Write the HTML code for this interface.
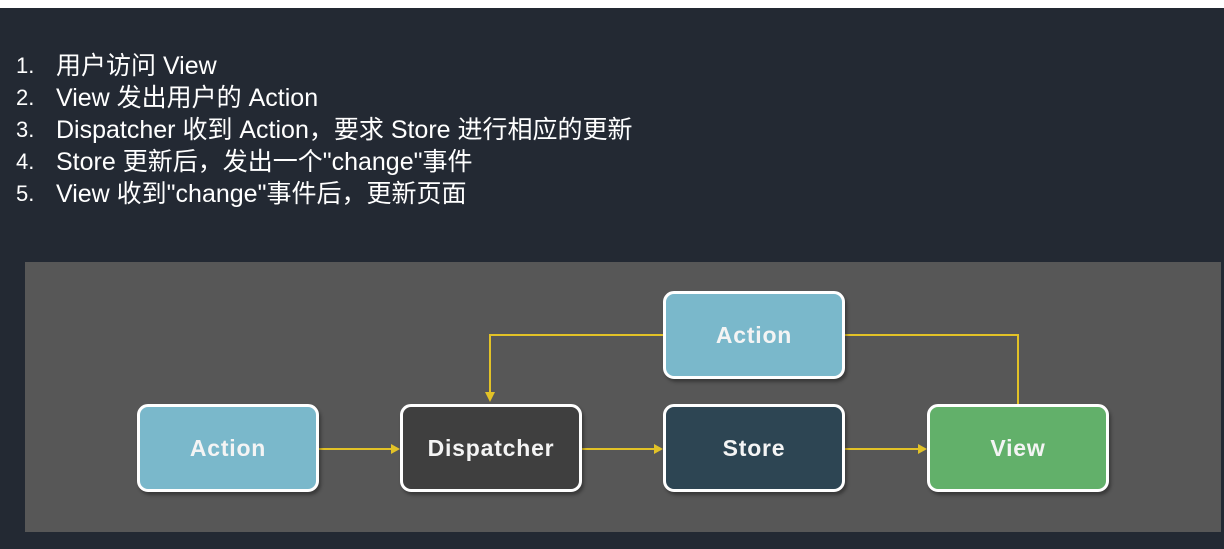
<!DOCTYPE html>
<html><head><meta charset="utf-8"><style>
html,body{margin:0;padding:0}
body{width:1224px;height:549px;background:#232933;position:relative;overflow:hidden;font-family:"Liberation Sans","Noto Sans CJK SC",sans-serif}
.top{position:absolute;left:0;top:0;width:1224px;height:8px;background:#fff}
.l{position:absolute;color:#fff;font-size:25px;line-height:28px;white-space:nowrap}
.n{position:absolute;left:16px;font-size:22px}
.t{position:absolute;left:56px}
.panel{position:absolute;left:25px;top:262px;width:1196px;height:270px;background:#575757}
.b{position:absolute;width:176px;height:82px;border:3px solid #fff;border-radius:11px;box-sizing:content-box;color:#f4f4f4;font-weight:bold;font-size:23px;display:flex;align-items:center;justify-content:center;box-shadow:2px 3px 3px rgba(0,0,0,.35);letter-spacing:.8px}
</style></head><body>
<div class="top"></div>
<div class="l" style="top:52px"><span class="n">1.</span><span class="t">用户访问 View</span></div>
<div class="l" style="top:84px"><span class="n">2.</span><span class="t">View 发出用户的 Action</span></div>
<div class="l" style="top:116px"><span class="n">3.</span><span class="t">Dispatcher 收到 Action，要求 Store 进行相应的更新</span></div>
<div class="l" style="top:148px"><span class="n">4.</span><span class="t">Store 更新后，发出一个"change"事件</span></div>
<div class="l" style="top:180px"><span class="n">5.</span><span class="t">View 收到"change"事件后，更新页面</span></div>
<div class="panel"></div>
<svg style="position:absolute;left:0;top:0" width="1224" height="549">
<g stroke="#e2c227" stroke-width="2" fill="none">
<path d="M318 449H392M582 449H655M845 449H919"/>
<path d="M663 335H490V393"/>
<path d="M845 335H1018V404"/>
</g>
<g fill="#e2c227">
<path d="M400 449l-9 -5v10z"/><path d="M663 449l-9 -5v10z"/><path d="M927 449l-9 -5v10z"/>
<path d="M490 402l-5 -10h10z"/>
</g>
</svg>
<div class="b" style="left:137px;top:404px;background:#7ab8cb">Action</div>
<div class="b" style="left:400px;top:404px;background:#3f3f3f">Dispatcher</div>
<div class="b" style="left:663px;top:404px;background:#2d4553">Store</div>
<div class="b" style="left:927px;top:404px;background:#62b06a">View</div>
<div class="b" style="left:663px;top:291px;background:#7ab8cb">Action</div>
</body></html>
